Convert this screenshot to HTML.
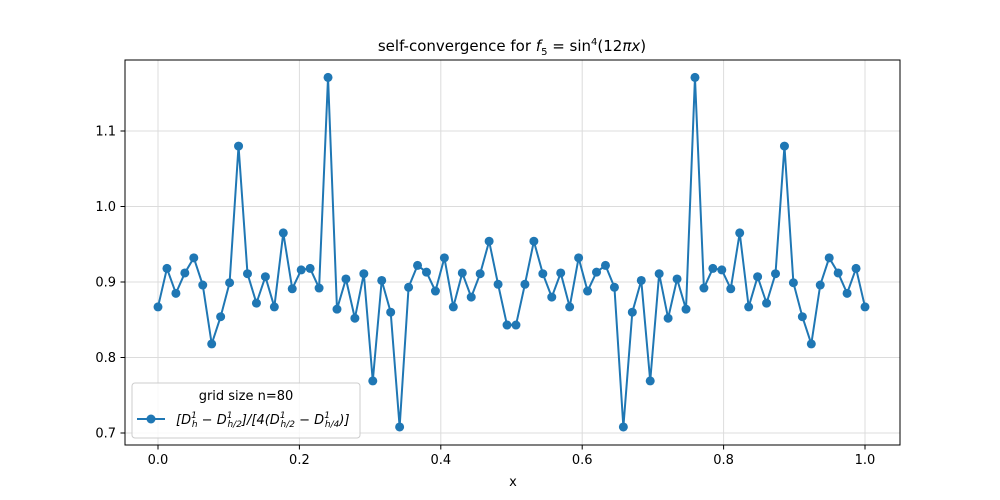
<!DOCTYPE html>
<html><head><meta charset="utf-8"><style>
body{margin:0;background:#fff}
svg{display:block;font-family:"DejaVu Sans","Liberation Sans",sans-serif}
</style></head><body>
<svg id="chart" width="1000" height="500">
<rect width="1000" height="500" fill="#fff"/>
<g id="grid"></g>
<g id="ticks"></g>
<polyline id="line" fill="none" stroke="#1f77b4" stroke-width="2"/>
<g id="pts"></g>
<rect x="125" y="60" width="775" height="385" fill="none" stroke="#000" stroke-width="1"/>
<text x="512" y="51" text-anchor="middle" font-size="15">self-convergence for <tspan font-style="italic">f</tspan><tspan font-size="10" dy="4">5</tspan><tspan dy="-4"> = sin</tspan><tspan font-size="10" dy="-6">4</tspan><tspan dy="6">(12</tspan><tspan font-style="italic">πx</tspan>)</text>
<text x="513" y="486" text-anchor="middle" font-size="13">x</text>
<g>
<rect x="132" y="383" width="228" height="55" rx="3" fill="#fff" fill-opacity="0.8" stroke="#ccc"/>
<text x="246" y="400" text-anchor="middle" font-size="13">grid size n=80</text>
<line x1="137" y1="419" x2="165" y2="419" stroke="#1f77b4" stroke-width="2"/>
<circle cx="151" cy="419" r="4.5" fill="#1f77b4"/>
<text x="176" y="424" font-size="13" font-style="italic">[D<tspan font-size="9" dy="-6">1</tspan><tspan font-size="9" dx="-5" dy="9">h</tspan><tspan dy="-3"> − D</tspan><tspan font-size="9" dy="-6">1</tspan><tspan font-size="9" dx="-5" dy="9">h/2</tspan><tspan dy="-3">]/[4(D</tspan><tspan font-size="9" dy="-6">1</tspan><tspan font-size="9" dx="-5" dy="9">h/2</tspan><tspan dy="-3"> − D</tspan><tspan font-size="9" dy="-6">1</tspan><tspan font-size="9" dx="-5" dy="9">h/4</tspan><tspan dy="-3">)]</tspan></text>
</g>
</svg>
<script>
const values = [0.867,0.918,0.885,0.912,0.932,0.896,0.818,0.854,0.899,1.080,0.911,0.872,0.907,0.867,0.965,0.891,0.916,0.918,0.892,1.171,0.864,0.904,0.852,0.911,0.769,0.902,0.860,0.708,0.893,0.922,0.913,0.888,0.932,0.867,0.912,0.880,0.911,0.954,0.897,0.843,
0.843,0.897,0.954,0.911,0.880,0.912,0.867,0.932,0.888,0.913,0.922,0.893,0.708,0.860,0.902,0.769,0.911,0.852,0.904,0.864,1.171,0.892,0.918,0.916,0.891,0.965,0.867,0.907,0.872,0.911,1.080,0.899,0.854,0.818,0.896,0.932,0.912,0.885,0.918,0.867];
const xTicks = [0.0,0.2,0.4,0.6,0.8,1.0];
const xTickLabels = ["0.0","0.2","0.4","0.6","0.8","1.0"];
const yTicks = [0.7,0.8,0.9,1.0,1.1];
const yTickLabels = ["0.7","0.8","0.9","1.0","1.1"];
const sx = v => 158 + v*707;
const sy = v => 433 - (v-0.7)*755;
const NS="http://www.w3.org/2000/svg";
const grid=document.getElementById('grid'), ticks=document.getElementById('ticks'), pts=document.getElementById('pts');
function mk(tag,attrs,parent){const e=document.createElementNS(NS,tag);for(const k in attrs)e.setAttribute(k,attrs[k]);parent.appendChild(e);return e;}
xTicks.forEach((t,i)=>{
  const x=sx(t);
  mk('line',{x1:x,x2:x,y1:60,y2:445,stroke:'#dcdcdc','stroke-width':1},grid);
  mk('line',{x1:x,x2:x,y1:445,y2:449.5,stroke:'#000'},ticks);
  const tx=mk('text',{x:x,y:464,'text-anchor':'middle','font-size':13},ticks);
  tx.textContent=xTickLabels[i];
  
  
});
yTicks.forEach((t,i)=>{
  const y=sy(t);
  mk('line',{x1:125,x2:900,y1:y,y2:y,stroke:'#dcdcdc','stroke-width':1},grid);
  mk('line',{x1:120.5,x2:125,y1:y,y2:y,stroke:'#000'},ticks);
  const tx=mk('text',{x:116,y:y+4.5,'text-anchor':'end','font-size':13},ticks);
  tx.textContent=yTickLabels[i];
  
  
});
const n=values.length-1;
document.getElementById('line').setAttribute('points',values.map((v,i)=>sx(i/n)+','+sy(v)).join(' '));
values.forEach((v,i)=>{
  const c=mk('circle',{cx:sx(i/n),cy:sy(v),r:4.5,fill:'#1f77b4'},pts);
  
  
});
</script>
</body></html>
